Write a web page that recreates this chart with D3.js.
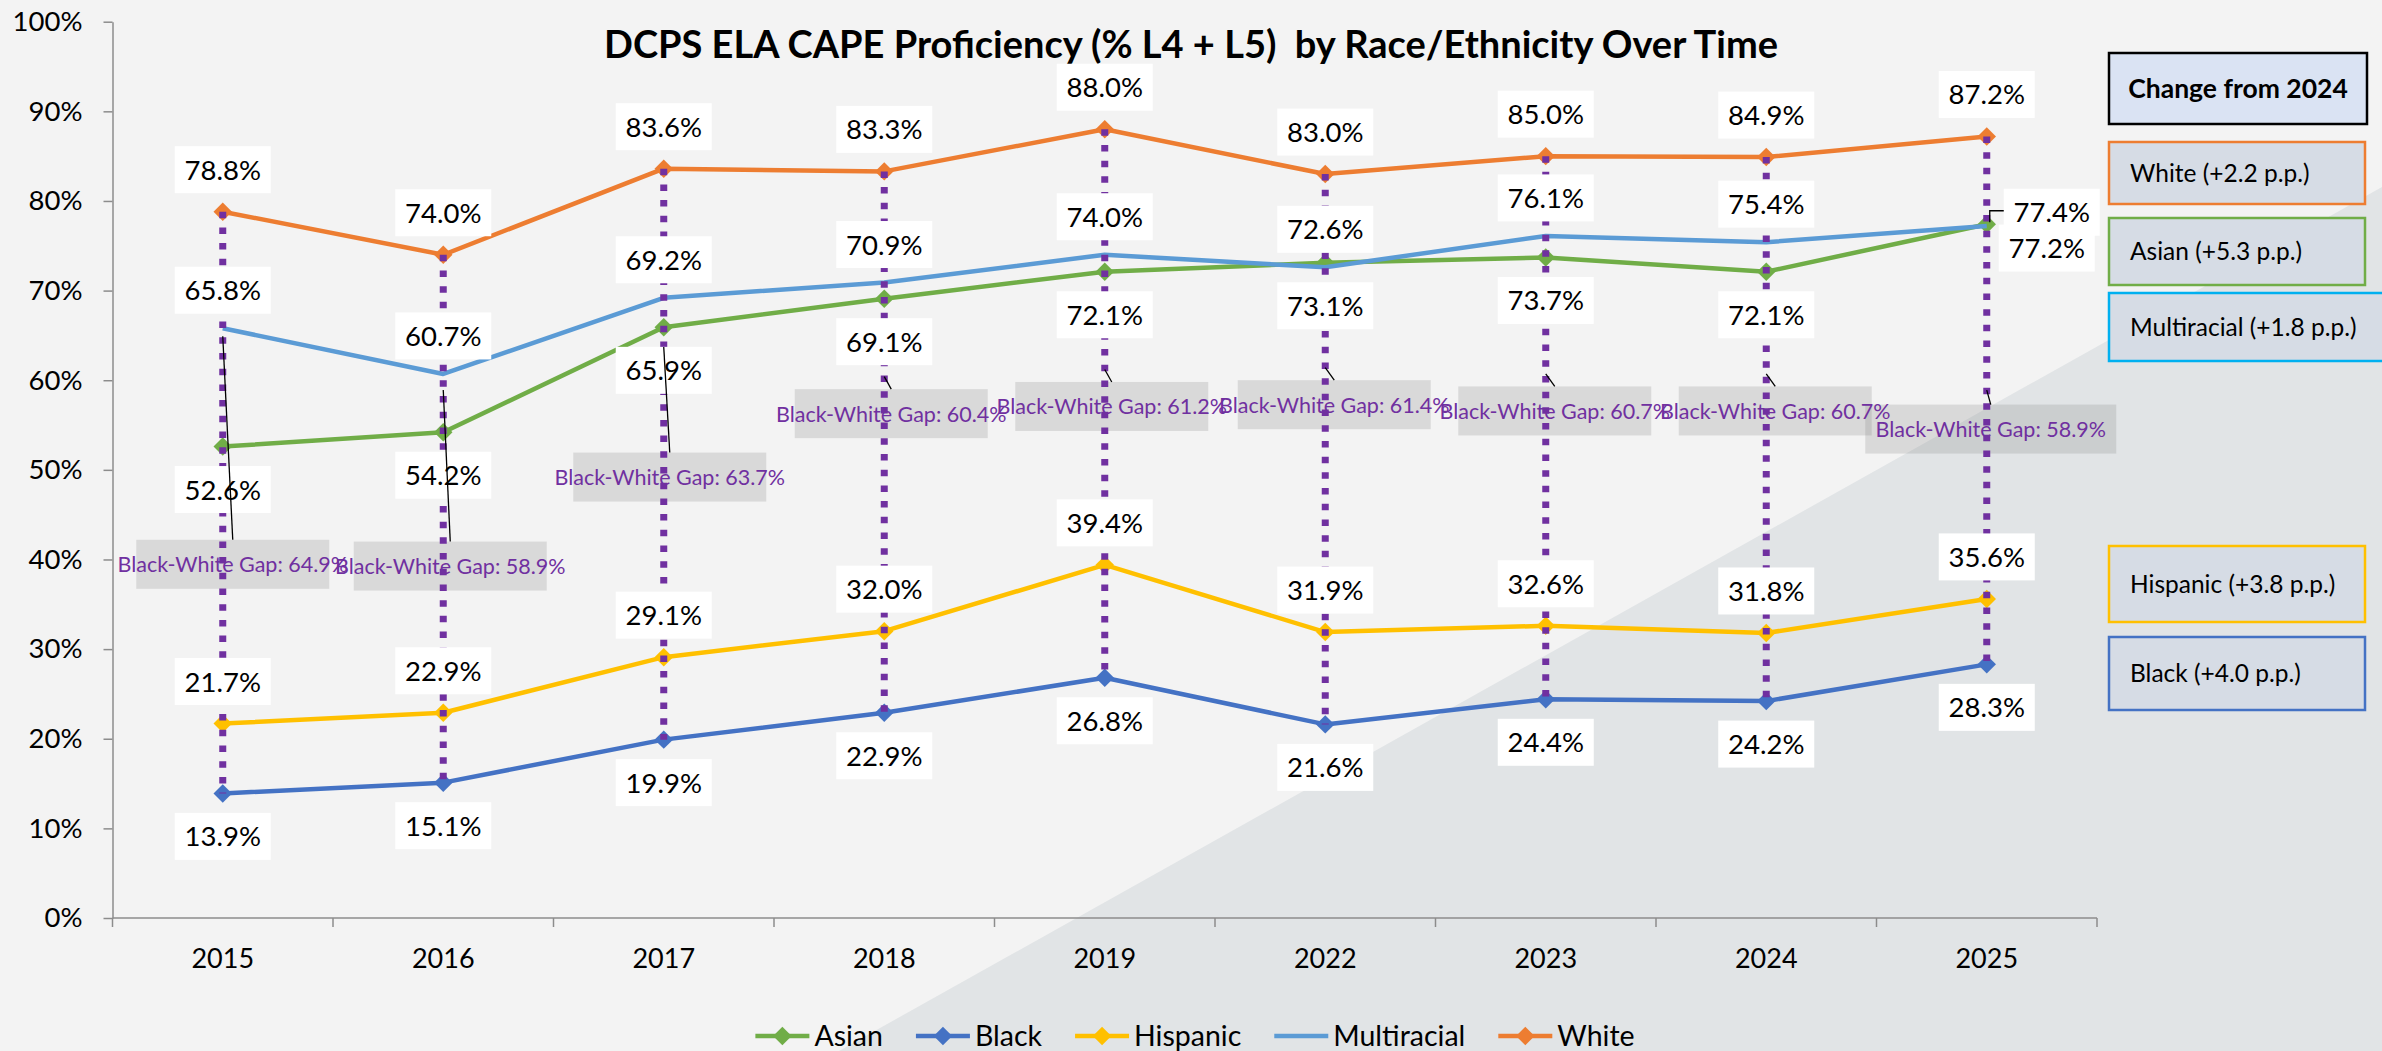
<!DOCTYPE html>
<html>
<head>
<meta charset="utf-8">
<script src="https://cdn.jsdelivr.net/npm/d3@7"></script>
<style>
  body { margin: 0; background: #f3f3f3; }
</style>
</head>
<body>
<div id="chart"></div>
<script>
// data
const years = ["2015", "2016", "2017", "2018", "2019", "2022", "2023", "2024", "2025"]
const asian = [52.6, 54.2, 65.9, 69.1, 72.1, 73.1, 73.7, 72.1, 77.4]
const black = [13.9, 15.1, 19.9, 22.9, 26.8, 21.6, 24.4, 24.2, 28.3]
const hispanic = [21.7, 22.9, 29.1, 32.0, 39.4, 31.9, 32.6, 31.8, 35.6]
const multiracial = [65.8, 60.7, 69.2, 70.9, 74.0, 72.6, 76.1, 75.4, 77.2]
const white = [78.8, 74.0, 83.6, 83.3, 88.0, 83.0, 85.0, 84.9, 87.2]
const gapValues = [64.9, 58.9, 63.7, 60.4, 61.2, 61.4, 60.7, 60.7, 58.9]
const yTicks = [0, 10, 20, 30, 40, 50, 60, 70, 80, 90, 100]
const changeNames = ["White", "Asian", "Multiracial", "Hispanic", "Black"]
const changeValues = [2.2, 5.3, 1.8, 3.8, 4.0]

// layout (hand placed labels and boxes, like in the original)
const gapNudgeX = [10, 7, 6, 7, 7, 9, 9, 9, 4]
const gapNudgeY = [228, 176, 130, 37, 37, 37, 37, 37, 39]
const boxTop = [142, 218, 293, 546, 637]
const boxHeight = [62, 67, 68, 76, 73]
const FONT = "Lato, 'Liberation Sans', sans-serif"

const colors = {
    Asian: "#70ad47", Black: "#4472c4", Hispanic: "#ffc000",
    Multiracial: "#5b9bd5", White: "#ed7d31"
}
const boxBorder = {
    White: "#ed7d31", Asian: "#70ad47", Multiracial: "#00b0f0",
    Hispanic: "#ffc000", Black: "#4472c4"
}

const series = [
    { name: "Asian", values: asian, marker: true, pos: "below" },
    { name: "Black", values: black, marker: true, pos: "below" },
    { name: "Hispanic", values: hispanic, marker: true, pos: "above" },
    { name: "Multiracial", values: multiracial, marker: false, pos: "above" },
    { name: "White", values: white, marker: true, pos: "above" }
]

const W = 2382, H = 1051
const svg = d3.select("#chart").append("svg")
    .attr("width", W)
    .attr("height", H)
    .style("font-family", FONT)

svg.append("rect")
    .attr("width", W)
    .attr("height", H)
    .attr("fill", "#f3f3f3")

// darker diagonal wedge in the background
svg.append("path")
    .attr("d", "M839,1051L2382,187L2382,1051Z")
    .attr("fill", "#e1e4e6")

const x = d3.scaleBand().domain(years).range([112.5, 2097])
const cx = d => x(d) + x.bandwidth() / 2
const y = d3.scaleLinear().domain([0, 100]).range([918, 21.7])

// title
svg.append("text")
    .attr("x", 1191)
    .attr("y", 58)
    .attr("text-anchor", "middle")
    .attr("font-weight", "bold")
    .attr("font-size", 38)
    .attr("xml:space", "preserve")
    .text("DCPS ELA CAPE Proficiency (% L4 + L5)  by Race/Ethnicity Over Time")

// y axis
const yAxis = svg.append("g")
    .attr("transform", "translate(112.5,0)")
    .call(d3.axisLeft(y).tickValues(yTicks).tickSize(9).tickSizeOuter(0)
        .tickPadding(21).tickFormat(d => d + "%"))
yAxis.select(".domain").attr("stroke", "#8c8c8c").attr("stroke-width", 1.5)
yAxis.selectAll(".tick line").attr("stroke", "#8c8c8c").attr("stroke-width", 1.5)
yAxis.selectAll(".tick text")
    .attr("font-family", FONT)
    .attr("font-size", 27.5)
    .attr("fill", "#000")

// x axis, ticks sit between the categories
const xAxis = svg.append("g")
xAxis.append("line")
    .attr("x1", x.range()[0]).attr("x2", x.range()[1])
    .attr("y1", y(0)).attr("y2", y(0))
    .attr("stroke", "#8c8c8c").attr("stroke-width", 1.5)
xAxis.selectAll("line.tk")
    .data(d3.range(years.length + 1))
    .join("line")
    .attr("class", "tk")
    .attr("x1", i => x.range()[0] + i * x.step())
    .attr("x2", i => x.range()[0] + i * x.step())
    .attr("y1", y(0)).attr("y2", y(0) + 9)
    .attr("stroke", "#8c8c8c").attr("stroke-width", 1.5)
xAxis.selectAll("text")
    .data(years)
    .join("text")
    .attr("x", d => cx(d))
    .attr("y", 968)
    .attr("text-anchor", "middle")
    .attr("font-size", 27)
    .text(d => d)

// series lines and markers
const line = d3.line()
    .x((d, i) => cx(years[i]))
    .y(d => y(d))
const diamond = d3.symbol().type(d3.symbolSquare).size(170)

series.forEach(s => {
    svg.append("path")
        .datum(s.values)
        .attr("d", line)
        .attr("fill", "none")
        .attr("stroke", colors[s.name])
        .attr("stroke-width", 4.5)
        .attr("stroke-linejoin", "round")
    if (s.marker) {
        svg.append("g").selectAll("path")
            .data(s.values)
            .join("path")
            .attr("d", diamond)
            .attr("transform", (d, i) => "translate(" + cx(years[i]) + "," + y(d) + ") rotate(45)")
            .attr("fill", colors[s.name])
    }
})

// gap labels (gray boxes), each one anchored at the gap value
const gapBoxes = gapValues.map((g, i) => {
    const ax = cx(years[i]), ay = y(g)
    const w = i === years.length - 1 ? 251 : 193
    return { ax: ax, ay: ay, bx: ax + gapNudgeX[i], by: ay + gapNudgeY[i], w: w, g: g }
})
const gapG = svg.append("g")
gapG.selectAll("rect")
    .data(gapBoxes)
    .join("rect")
    .attr("x", d => d.bx - d.w / 2)
    .attr("y", d => d.by - 24.5)
    .attr("width", d => d.w)
    .attr("height", 49)
    .attr("fill", "#808080")
    .attr("fill-opacity", 0.22)
gapG.selectAll("text")
    .data(gapBoxes)
    .join("text")
    .attr("x", d => d.bx)
    .attr("y", d => d.by + 8)
    .attr("text-anchor", "middle")
    .attr("font-size", 21.5)
    .attr("fill", "#7030a0")
    .text(d => "Black-White Gap: " + d.g.toFixed(1) + "%")

// high-low drop lines
svg.append("g").selectAll("line")
    .data(years)
    .join("line")
    .attr("x1", d => cx(d)).attr("x2", d => cx(d))
    .attr("y1", (d, i) => y(d3.max(series, s => s.values[i])))
    .attr("y2", (d, i) => y(d3.min(series, s => s.values[i])))
    .attr("stroke", "#7030a0")
    .attr("stroke-width", 7)
    .attr("stroke-dasharray", "6.5,9.2")

// data labels
const labelOverride = { Asian: { 8: [65, -12] }, Multiracial: { 8: [60, 22] } }
const labels = []
series.forEach(s => {
    s.values.forEach((v, i) => {
        const px = cx(years[i]), py = y(v)
        let lx = px, ly
        const o = labelOverride[s.name] && labelOverride[s.name][i]
        if (o) { lx = px + o[0]; ly = py + o[1] }
        else if (s.pos === "above") ly = py - (s.marker ? 42 : 38)
        else ly = py + 43
        labels.push({ x: lx, y: ly, v: v, name: s.name, i: i })
    })
})
// multiracial 2025 goes under the asian 2025 label
labels.sort((a, b) => (a.name === "Asian" && a.i === 8) - (b.name === "Asian" && b.i === 8))
const lab = svg.append("g").selectAll("g")
    .data(labels)
    .join("g")
    .attr("transform", d => "translate(" + d.x + "," + d.y + ")")
lab.append("rect")
    .attr("x", -48).attr("y", -23.5)
    .attr("width", 96).attr("height", 47)
    .attr("fill", "#fff")
lab.append("text")
    .attr("text-anchor", "middle")
    .attr("y", 10)
    .attr("font-size", 27.5)
    .text(d => d.v.toFixed(1) + "%")

// leader lines
svg.append("g").selectAll("line")
    .data(gapBoxes)
    .join("line")
    .attr("x1", d => d.ax).attr("y1", d => d.ay)
    .attr("x2", d => d.bx).attr("y2", d => d.by - 24.5)
    .attr("stroke", "#000").attr("stroke-width", 1.3)
const a25 = [cx(years[8]), y(asian[8])]
svg.append("path")
    .attr("d", "M" + (a25[0] + 3) + "," + (a25[1] - 2) + "V" + (a25[1] - 13.5) + "H" + (a25[0] + 17))
    .attr("fill", "none").attr("stroke", "#000").attr("stroke-width", 1.3)

// "Change from 2024" boxes
const side = svg.append("g")
side.append("rect")
    .attr("x", 2109).attr("y", 53)
    .attr("width", 258).attr("height", 71)
    .attr("fill", "#dae3f3").attr("stroke", "#000").attr("stroke-width", 2.5)
side.append("text")
    .attr("x", 2238).attr("y", 98)
    .attr("text-anchor", "middle")
    .attr("font-weight", "bold")
    .attr("font-size", 26.5)
    .text("Change from 2024")
changeNames.forEach((n, i) => {
    side.append("rect")
        .attr("x", 2109).attr("y", boxTop[i])
        .attr("width", n === "Multiracial" ? 290 : 256).attr("height", boxHeight[i])
        .attr("fill", "#d6dce5")
        .attr("stroke", boxBorder[n]).attr("stroke-width", 2.5)
    side.append("text")
        .attr("x", 2130)
        .attr("y", boxTop[i] + boxHeight[i] / 2 + 8.5)
        .attr("font-size", 24.5)
        .text(n + " (+" + changeValues[i].toFixed(1) + " p.p.)")
})

// legend
const leg = svg.append("g")
let lx = 0
series.forEach(s => {
    const it = leg.append("g").attr("transform", "translate(" + lx + ",0)")
    it.append("line")
        .attr("x1", 0).attr("x2", 54)
        .attr("stroke", colors[s.name]).attr("stroke-width", 4.5)
    if (s.marker) {
        it.append("path")
            .attr("d", diamond)
            .attr("transform", "translate(27,0) rotate(45)")
            .attr("fill", colors[s.name])
    }
    const t = it.append("text")
        .attr("x", 59).attr("y", 10)
        .attr("font-size", 28.5)
        .text(s.name)
    lx += 59 + t.node().getComputedTextLength() + 33
})
lx -= 33
leg.attr("transform", "translate(" + (1195 - lx / 2) + ",1036)")
</script>
</body>
</html>
